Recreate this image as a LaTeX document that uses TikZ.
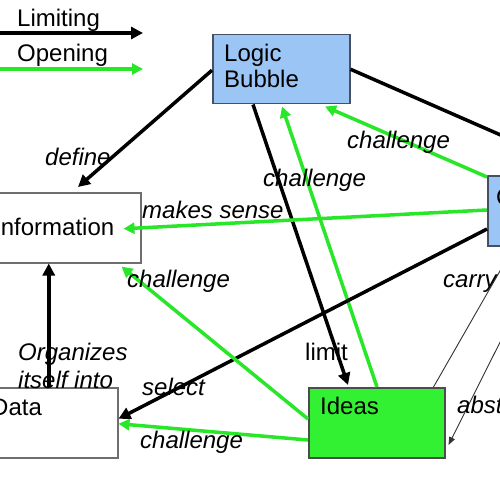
\documentclass[tikz,border=0pt]{standalone}
\usepackage{fontspec}
\setmainfont{Liberation Sans}
\usetikzlibrary{arrows.meta,calc}
\definecolor{gline}{RGB}{40,230,40}
\definecolor{gfill}{RGB}{50,240,50}
\definecolor{bfill}{RGB}{155,197,245}
\definecolor{bdraw}{RGB}{70,80,100}
\definecolor{grayb}{RGB}{110,110,110}
\begin{document}
\begin{tikzpicture}[x=1pt,y=-1pt,
  font=\fontsize{24}{28}\selectfont,
  box/.style={draw, line width=1.5pt, inner sep=0pt, anchor=north west},
  lim/.style={line width=3.5pt, -{Triangle[length=12pt,width=12pt]}},
  opn/.style={draw=gline, line width=3.5pt, -{Triangle[length=11pt,width=11pt]}},
  thinline/.style={line width=0.9pt, draw=black!80},
  txt/.style={inner sep=0pt, anchor=base west},
  lbl/.style={inner sep=0pt, anchor=base west, font=\fontsize{24}{28}\selectfont\itshape}]
\useasboundingbox (0,0) rectangle (500,500);
\clip (0,0) rectangle (500,500);
\fill[white] (0,0) rectangle (500,500);
% boxes
\node[box, fill=bfill, draw=bdraw, minimum width=137pt, minimum height=69pt] (lb) at (212,34) {};
\node[box, fill=white, draw=grayb, minimum width=170pt, minimum height=70pt] (info) at (-30,192) {};
\node[box, fill=white, draw=grayb, minimum width=138pt, minimum height=70pt] (data) at (-21,387) {};
\node[box, fill=gfill, draw=black!70, minimum width=136pt, minimum height=70pt] (ideas) at (308,387) {};
\node[box, fill=bfill, draw=bdraw, minimum width=137pt, minimum height=70pt] (rb) at (487,175) {};
% legend
\coordinate (l1a) at (-5,33); \coordinate (l1b) at (143,33);
\coordinate (l2a) at (-5,69); \coordinate (l2b) at (143,69);
\draw[lim] (l1a) -- (l1b);
\draw[opn] (l2a) -- (l2b);
% connectors
\coordinate (offr) at (560,161);
\draw[line width=3.5pt] (lb.east) -- (offr);
\draw[lim] ([yshift=-1pt]lb.west) -- ([xshift=108pt,yshift=5pt]info.north west);
\draw[lim] ([xshift=41pt]lb.south west) -- ([xshift=40pt,yshift=2pt]ideas.north west);
\draw[opn] ([xshift=69pt]ideas.north west) -- ([xshift=70pt,yshift=-2pt]lb.south west);
\draw[opn] ([yshift=-2pt]rb.north west) -- ([xshift=113pt,yshift=-2pt]lb.south west);
\draw[opn] ([yshift=-35pt]rb.north west) -- ([xshift=-18pt,yshift=-1pt]info.east);
\draw[lim] ([yshift=-54pt]rb.north west) -- ([yshift=4pt]data.east);
\draw[opn] ([yshift=-53pt]ideas.north west) -- ([yshift=-1pt]data.east);
\draw[opn] ([yshift=-32pt]ideas.north west) -- ([xshift=-20pt,yshift=-3pt]info.south east);
\draw[lim] (data.north) -- (data.north |- info.south);
\draw[thinline] ([xshift=-12pt]ideas.north east) -- ([xshift=27pt]rb.south west);
\draw[thinline, -{Triangle[length=8pt,width=6pt]}] ([xshift=61pt]rb.south west) -- ([xshift=3pt,yshift=-58pt]ideas.north east);
% texts
\node[txt] (tlim) at (17,27) {Limiting};
\node[txt] (topen) at (17,62) {Opening};
\node[txt] (tlb1) at (224,62) {Logic};
\node[txt] (tlb2) at (224,88) {Bubble};
\node[txt] (tinfo) at (-6,235) {Information};
\node[txt] (tdata) at (-9,415) {Data};
\node[txt] (tideas) at (320,414) {Ideas};
\node[txt] (trb) at (496,205) {C};
\node[txt] (tlimit) at (305,360) {limit};
\node[lbl] (ldefine) at (45,165) {define};
\node[lbl] (lmakes) at (142,218) {makes sense};
\node[lbl] (lch1) at (263,186) {challenge};
\node[lbl] (lch2) at (347,148) {challenge};
\node[lbl] (lch3) at (127,287) {challenge};
\node[lbl] (lorg1) at (18,360) {Organizes};
\node[lbl] (lorg2) at (18,388) {itself into};
\node[lbl] (lselect) at (142,395) {select};
\node[lbl] (lch4) at (140,448) {challenge};
\node[lbl] (lcarry) at (443,287) {carry};
\node[lbl] (labst) at (457,413) {abst};
\end{tikzpicture}
\end{document}
